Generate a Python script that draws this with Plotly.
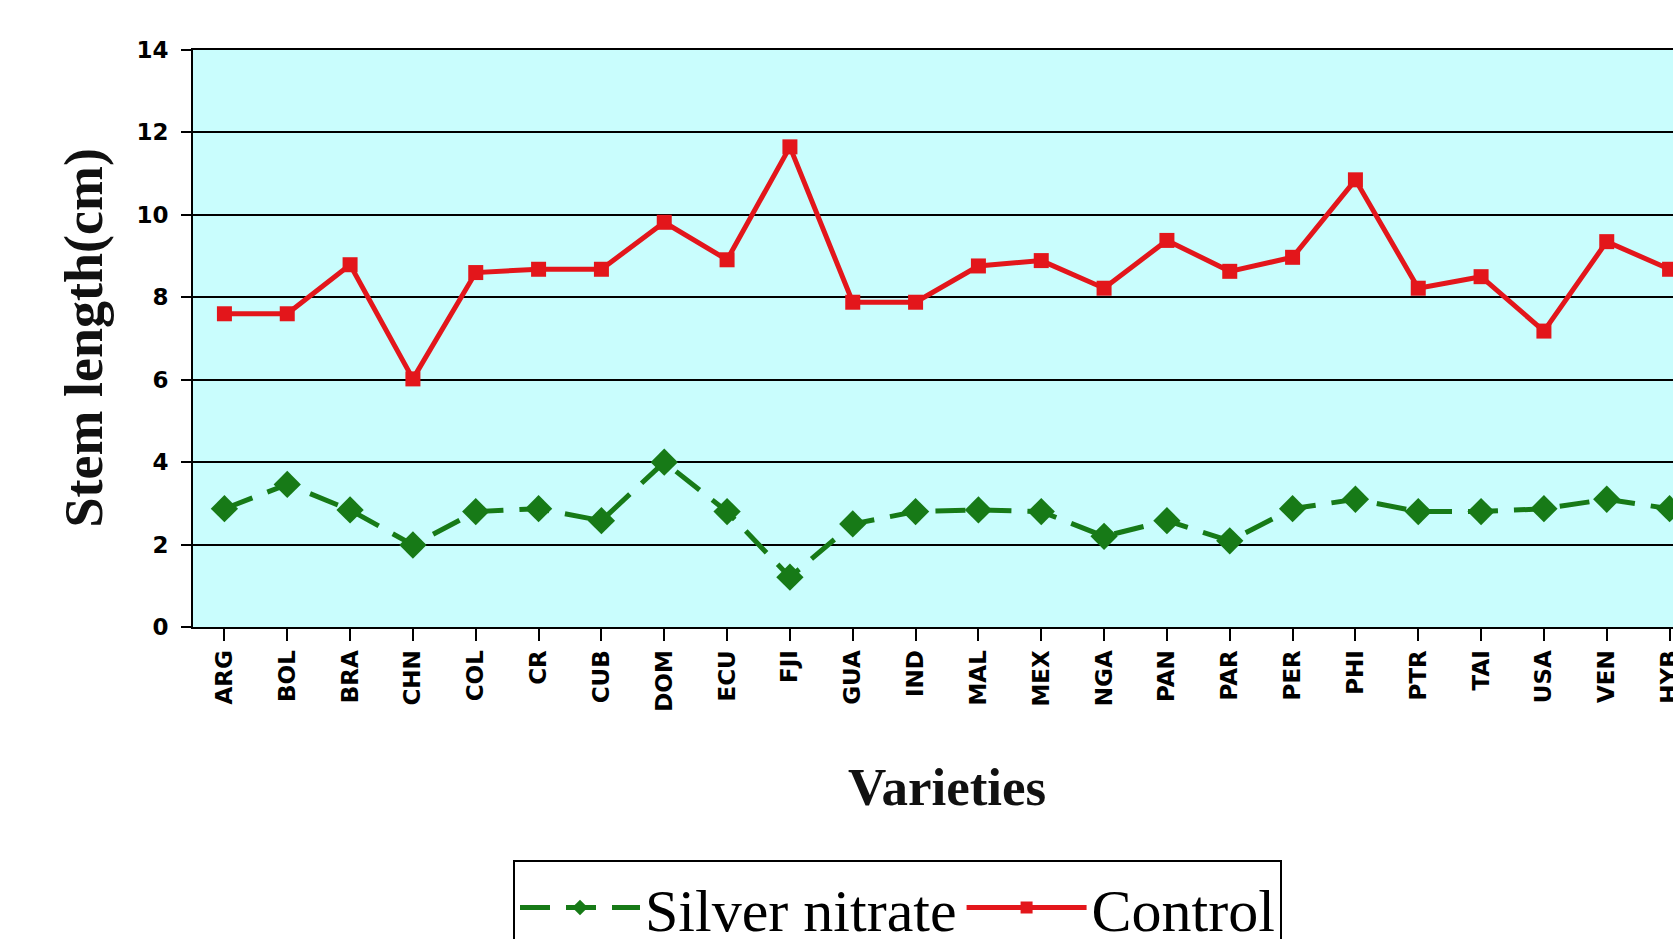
import plotly.graph_objects as go

varieties = ["ARG", "BOL", "BRA", "CHN", "COL", "CR", "CUB", "DOM", "ECU", "FJI",
             "GUA", "IND", "MAL", "MEX", "NGA", "PAN", "PAR", "PER", "PHI", "PTR",
             "TAI", "USA", "VEN", "HYB"]
silver_nitrate = [2.87, 3.46, 2.84, 1.99, 2.8, 2.87, 2.58, 4.0, 2.8, 1.21,
                  2.5, 2.8, 2.84, 2.8, 2.2, 2.58, 2.09, 2.87, 3.1, 2.8,
                  2.8, 2.87, 3.1, 2.87]
control = [7.6, 7.6, 8.79, 6.02, 8.6, 8.68, 8.68, 9.82, 8.91, 11.65,
           7.88, 7.88, 8.76, 8.89, 8.22, 9.38, 8.63, 8.97, 10.85, 8.22,
           8.5, 7.18, 9.35, 8.68]
y_ticks = [0, 2, 4, 6, 8, 10, 12, 14]

# The reference chart is cropped on its right edge: the plot area runs past the
# visible window, so the figure is slightly wider than the 1673 px viewport.
W, H = 1710, 939
L, T, B = 193, 50, 312
PLOT_RIGHT = 1701
R = W - PLOT_RIGHT
plot_w = PLOT_RIGHT - L
plot_h = H - T - B

fig = go.Figure()
fig.add_trace(go.Scatter(
    x=list(range(len(varieties))), y=silver_nitrate, name="Silver nitrate",
    mode="lines+markers",
    line=dict(color="#177a17", width=5, dash="30px,16px"),
    marker=dict(symbol="diamond", size=21, color="#177a17"),
))
fig.add_trace(go.Scatter(
    x=list(range(len(varieties))), y=control, name="Control",
    mode="lines+markers",
    line=dict(color="#e3161b", width=5),
    marker=dict(symbol="square", size=15, color="#e3161b"),
))

fig.update_layout(
    width=W, height=H,
    margin=dict(l=L, r=R, t=T, b=B, autoexpand=False),
    paper_bgcolor="white",
    plot_bgcolor="#c9fdfd",
    showlegend=True,
    legend=dict(
        orientation="h",
        x=(513 - L) / plot_w, xanchor="left",
        y=(627 - 860) / plot_h, yanchor="top",
        bgcolor="white", bordercolor="black", borderwidth=2,
        font=dict(family="Liberation Serif", size=60, color="black"),
        itemwidth=120,
        itemsizing="constant",
        tracegroupgap=0,
    ),
    xaxis=dict(
        range=[-0.5, len(varieties) - 0.5],
        tickmode="array",
        tickvals=list(range(len(varieties))),
        ticktext=varieties,
        tickangle=-90,
        tickson="boundaries",
        ticks="outside", ticklen=12, tickwidth=2, tickcolor="black",
        tickfont=dict(family="DejaVu Sans", size=23, color="black", weight="bold"),
        showline=True, linecolor="black", linewidth=2, mirror=True,
        showgrid=False, zeroline=False,
    ),
    yaxis=dict(
        range=[0, 14],
        tickmode="array", tickvals=y_ticks, ticktext=[str(v) for v in y_ticks],
        ticks="outside", ticklen=10, tickwidth=2, tickcolor="black",
        tickfont=dict(family="DejaVu Sans", size=23, color="black", weight="bold"),
        ticklabelstandoff=8,
        showline=True, linecolor="black", linewidth=2,
        showgrid=True, gridcolor="black", gridwidth=2,
        zeroline=False,
    ),
    annotations=[
        dict(text="Stem length(cm)", textangle=-90,
             x=(83 - L) / plot_w, y=0.5, xref="paper", yref="paper",
             xanchor="center", yanchor="middle", showarrow=False,
             font=dict(family="Liberation Serif", size=54, color="#111111", weight="bold")),
        dict(text="Varieties",
             x=(947 - L) / plot_w, y=(627 - 787) / plot_h, xref="paper", yref="paper",
             xanchor="center", yanchor="middle", showarrow=False,
             font=dict(family="Liberation Serif", size=53, color="#111111", weight="bold")),
    ],
)

# Remove default page margin and hide overflow so the figure starts at the
# window's top-left corner and is cropped on the right like the reference.
fig.write_html(
    "out.html",
    config={"displayModeBar": False},
    post_script=("document.body.style.margin='0';"
                 "document.body.style.overflow='hidden';"
                 "document.documentElement.style.overflow='hidden';"),
)
